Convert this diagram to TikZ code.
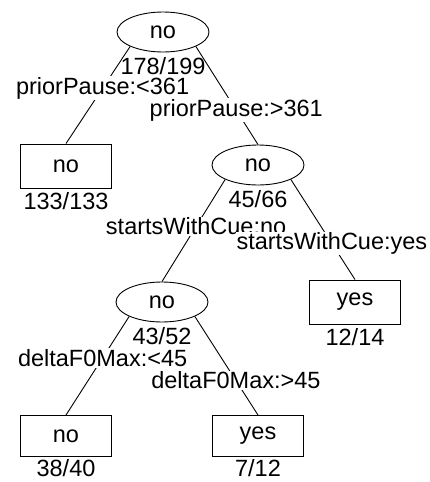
\documentclass[tikz,border=0pt]{standalone}
\usepackage{fontspec}
\setmainfont{Liberation Sans}
\usetikzlibrary{positioning,shapes.geometric}

\tikzset{
  split/.style={draw,ellipse,minimum width=92pt,minimum height=40pt,inner sep=0pt},
  leaf/.style={draw,rectangle,minimum width=91pt,minimum height=44pt,inner sep=0pt},
  tally/.style={inner sep=0pt},
  edgelbl/.style={fill=white,inner sep=1pt},
}

\begin{document}
\begin{tikzpicture}[x=1pt,y=-1pt,line width=0.9pt,
    every node/.style={font=\fontsize{23.5}{26}\selectfont}]
  \useasboundingbox (0,0) rectangle (429,482);

  % decision nodes and leaves
  \node[split] (root) at (163,32) {no};
  \node[leaf]  (noA)  at (66,166) {no};
  \node[split] (cue)  at (258,165) {no};
  \node[split] (df)   at (162,302) {no};
  \node[leaf]  (yesB) at (355,302) {yes};
  \node[leaf,minimum height=41pt]  (noC)  at (66,436) {no};
  \node[leaf,minimum height=41pt]  (yesD) at (258,436) {yes};

  % counts
  \node[tally,below=5pt of root] (root-n) {178/199};
  \node[tally,below=4pt of noA]  (noA-n)  {133/133};
  \node[tally,below=5pt of cue]  (cue-n)  {45/66};
  \node[tally,below=5pt of df]   (df-n)   {43/52};
  \node[tally,below=4pt of yesB] (yesB-n) {12/14};
  \node[tally,below=2pt of noC]  (noC-n)  {38/40};
  \node[tally,below=2pt of yesD] (yesD-n) {7/12};

  % branches
  \draw (root.south west) -- (noA.north) node[edgelbl,pos=0.43] {priorPause:<361};
  \draw (root.south east) -- (cue.north) node[edgelbl,pos=0.65] {priorPause:>361};
  \draw (cue.south west) -- (df.north) node[edgelbl,pos=0.46] {startsWithCue:no};
  \draw (cue.south east) -- (yesB.north) node[edgelbl,pos=0.64] {startsWithCue:yes};
  \draw (df.south west) -- (noC.north) node[edgelbl,pos=0.42] {deltaF0Max:<45};
  \draw (df.south east) -- (yesD.north) node[edgelbl,pos=0.65] {deltaF0Max:>45};
\end{tikzpicture}
\end{document}
